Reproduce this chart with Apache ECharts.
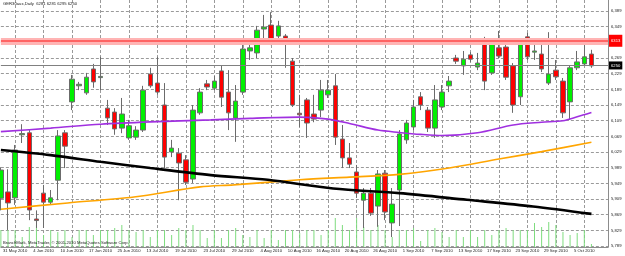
<!DOCTYPE html>
<html>
<head>
<meta charset="utf-8">
<script src="https://cdn.jsdelivr.net/npm/echarts@6/dist/echarts.min.js"></script>
<style>
html, body { margin: 0; padding: 0; background: #fff; }
#chart { width: 625px; height: 256px; }
</style>
</head>
<body>
<div id="chart"></div>
<script>
// daily bars, [open, close, low, high]
const candles = [
  [5911, 5983, 5880, 5990], [5927, 5899, 5830, 5985], [5912, 6034, 5894, 6047], [6073, 6076, 6052, 6100],
  [6078, 5881, 5855, 6085], [5858, 5854, 5835, 5880], [5924, 5901, 5835, 5945], [5901, 5912, 5894, 5932],
  [5957, 6070, 5906, 6085], [6078, 6044, 5988, 6085], [6157, 6215, 6136, 6226], [6198, 6202, 6187, 6208],
  [6180, 6220, 6175, 6231], [6241, 6208, 6193, 6254], [6219, 6222, 6187, 6272], [6141, 6116, 6098, 6162],
  [6131, 6088, 6073, 6141], [6090, 6126, 6077, 6167], [6065, 6096, 6060, 6111], [6067, 6085, 6060, 6095],
  [6085, 6187, 6080, 6198], [6228, 6198, 6193, 6244], [6205, 6182, 6175, 6272], [6149, 6016, 5988, 6205],
  [6029, 6039, 6016, 6060], [6026, 6001, 5906, 6039], [6009, 5952, 5945, 6021], [5960, 6136, 5950, 6149],
  [6129, 6182, 6124, 6192], [6203, 6195, 6187, 6213], [6192, 6210, 6187, 6223], [6236, 6169, 6144, 6249],
  [6182, 6129, 6085, 6238], [6116, 6159, 6055, 6200], [6182, 6292, 6175, 6310], [6287, 6295, 6264, 6310],
  [6282, 6340, 6269, 6351], [6343, 6348, 6318, 6379], [6353, 6307, 6302, 6386], [6325, 6351, 6315, 6364],
  [6325, 6307, 6244, 6330], [6261, 6149, 6144, 6269], [6128, 6124, 6093, 6175], [6162, 6103, 6065, 6167],
  [6126, 6113, 6105, 6175], [6136, 6187, 6118, 6213], [6175, 6187, 6167, 6213], [6198, 6067, 6047, 6228],
  [6062, 6014, 5988, 6098], [6014, 5998, 5988, 6052], [5978, 5924, 5912, 5996], [5906, 5924, 5835, 5937],
  [5924, 5873, 5866, 5937], [5891, 5973, 5838, 5983], [5975, 5876, 5855, 5983], [5848, 5896, 5812, 5937],
  [5932, 6075, 5840, 6085], [6060, 6103, 6050, 6111], [6093, 6144, 6085, 6162], [6170, 6149, 6136, 6182],
  [6136, 6090, 6080, 6144], [6090, 6162, 6065, 6200], [6144, 6182, 6136, 6200], [6198, 6210, 6182, 6223],
  [6269, 6261, 6254, 6277], [6249, 6266, 6226, 6287], [6277, 6266, 6259, 6284], [6246, 6256, 6238, 6282],
  [6307, 6210, 6187, 6323], [6231, 6310, 6226, 6320], [6295, 6274, 6269, 6338], [6297, 6220, 6213, 6305],
  [6249, 6149, 6129, 6256], [6170, 6307, 6149, 6315], [6323, 6272, 6264, 6333], [6284, 6287, 6264, 6310],
  [6279, 6241, 6233, 6310], [6205, 6228, 6200, 6335], [6238, 6221, 6213, 6264], [6210, 6129, 6116, 6218],
  [6157, 6244, 6111, 6251], [6244, 6259, 6238, 6287], [6254, 6272, 6249, 6320], [6279, 6249, 6244, 6290]
];

// tick volumes, one per bar
const volumes = [
  1700, 1700, 1700, 1000, 2000, 2200, 1200, 1700, 1500, 1700, 1000, 1700, 1700, 1200,
  1700, 1700, 1900, 2200, 1700, 1500, 1700, 1000, 1700, 1700, 1200, 1900, 1700, 2200,
  1700, 900, 1700, 900, 1700, 1900, 1200, 1000, 1700, 900, 1700, 700, 1700, 1700, 1400,
  1700, 1700, 1200, 1700, 2900, 2200, 1700, 2900, 2000, 1700, 2200, 1700, 1000, 1700, 1700,
  1900, 600, 1700, 1900, 1500, 1000, 1700, 1000, 1700, 1000, 1700, 1200, 1700, 1900,
  1700, 1700, 1700, 2400, 2000, 2500, 2200, 1500, 1200, 1400, 1700, 300
];

// moving averages, [bar, price]
const maPurple = [[0, 6081], [7, 6090], [14, 6100], [21, 6106], [29.5, 6111], [35, 6115], [42, 6118],
  [46, 6113], [49, 6102], [53, 6085], [56, 6079], [59, 6074], [62, 6071], [67, 6078], [72, 6098],
  [76, 6105], [79, 6109], [81, 6119], [83, 6130]];
const maOrange = [[0, 5883], [9.4, 5899], [18.7, 5914], [28, 5940], [32.7, 5945], [42, 5958],
  [49, 5965], [56, 5972], [63, 5988], [70, 6011], [76, 6030], [83, 6054]];
const maBlack = [[0, 6034], [7, 6021], [14, 6004], [21, 5988], [29.5, 5970], [37.5, 5958],
  [46.7, 5936], [56, 5924], [65.5, 5907], [74.8, 5890], [83, 5871]];

const priceTicks = [5789, 5829, 5869, 5909, 5949, 5989, 6029, 6069, 6109, 6149, 6189, 6229, 6269, 6309, 6349, 6389];
const dateTickIdx = [2, 6, 10, 14, 18, 22, 26, 30, 34, 38, 42, 46, 50, 54, 58, 62, 66, 70, 74, 78, 82];
const dateTicks = ['31 May 2010', '4 Jun 2010', '10 Jun 2010', '17 Jun 2010', '25 Jun 2010', '13 Jul 2010',
  '19 Jul 2010', '23 Jul 2010', '29 Jul 2010', '4 Aug 2010', '10 Aug 2010', '16 Aug 2010', '20 Aug 2010',
  '26 Aug 2010', '1 Sep 2010', '7 Sep 2010', '13 Sep 2010', '17 Sep 2010', '23 Sep 2010', '29 Sep 2010', '5 Oct 2010'];

const levelPrice = 6313;
const lastPrice = 6250;
const titleText = 'GER30aux,Daily  6281 6281 6295 6250';
const copyText = 'BranchMark, MetaTrader, \u00a9 2001-2010 MetaQuotes Software Corp.';

const font = 'Liberation Sans';
const gridLine = { show: true, lineStyle: { color: '#9a9a9a', width: 1, type: [3, 2] } };
const frame = { show: true, onZero: false, lineStyle: { color: '#8c8c8c', width: 1 } };

let chart = echarts.init(document.getElementById('chart'), null, { renderer: 'canvas' });

chart.setOption({
  animation: false,
  backgroundColor: '#fff',
  title: {
    text: titleText, left: 3, top: 2, padding: 0,
    textStyle: { fontSize: 4.2, fontWeight: 'normal', color: '#222', fontFamily: font }
  },
  graphic: [{
    type: 'text', left: 3, top: 241, silent: true, z: 10,
    style: { text: copyText, fontSize: 4.2, fontFamily: font, fill: '#222' }
  }],
  grid: { left: 0, right: 17, top: 0, bottom: 9 },
  xAxis: {
    type: 'value', min: 0, max: 85.33,
    axisLine: frame,
    axisTick: { show: false, customValues: dateTickIdx },
    axisLabel: {
      customValues: dateTickIdx,
      formatter: v => dateTicks[dateTickIdx.indexOf(v)],
      fontSize: 4.2, color: '#222', margin: 2, fontFamily: font
    },
    splitLine: gridLine
  },
  yAxis: [{
    type: 'value', position: 'right', min: 5786.5, max: 6417.1,
    axisLine: frame,
    axisTick: { show: false, customValues: priceTicks },
    axisLabel: { customValues: priceTicks, fontSize: 4.2, color: '#222', margin: 3, fontFamily: font },
    splitLine: gridLine
  }, {
    type: 'value', min: 0, max: 24700, show: false
  }],
  series: [{
    type: 'bar',
    yAxisIndex: 1,
    data: volumes.map((v, i) => [i, v]),
    barWidth: 1,
    silent: true,
    itemStyle: { color: '#7fdc7f' },
    z: 1
  }, {
    type: 'candlestick',
    data: candles.map((c, i) => [i, c[0], c[1], c[2], c[3]]),
    encode: { x: 0, y: [1, 2, 3, 4] },
    barWidth: 5,
    silent: true,
    itemStyle: {
      color: '#00f000', color0: '#ff0000',
      borderColor: '#6b6b6b', borderColor0: '#6b6b6b', borderWidth: 1
    },
    markLine: {
      silent: true,
      symbol: ['none', 'none'],
      data: [{
        yAxis: lastPrice,
        lineStyle: { color: '#808080', width: 1, type: 'solid' },
        label: {
          show: true, position: 'end', distance: 1, formatter: String(lastPrice),
          backgroundColor: '#000', color: '#fff', padding: [2, 2], fontSize: 4.2, fontFamily: font
        }
      }, {
        yAxis: levelPrice,
        lineStyle: { color: '#ffb4b4', width: 7, type: 'solid', opacity: 1 },
        label: { show: false }
      }, {
        yAxis: levelPrice,
        lineStyle: { color: '#ff4a4a', width: 1.5, type: 'solid', opacity: 1 },
        label: {
          show: true, position: 'end', distance: 1, formatter: String(levelPrice),
          backgroundColor: '#ff0000', color: '#fff', padding: [4, 2], fontSize: 4.2, fontFamily: font
        }
      }]
    },
    z: 2
  }, {
    type: 'line', data: maPurple, showSymbol: false, smooth: 0.3, silent: true,
    lineStyle: { color: '#a030e0', width: 1.6 }, z: 3
  }, {
    type: 'line', data: maOrange, showSymbol: false, smooth: 0.3, silent: true,
    lineStyle: { color: '#ffa500', width: 1.6 }, z: 3
  }, {
    type: 'line', data: maBlack, showSymbol: false, smooth: 0.3, silent: true,
    lineStyle: { color: '#000', width: 2.6 }, z: 3
  }]
});
</script>
</body>
</html>
